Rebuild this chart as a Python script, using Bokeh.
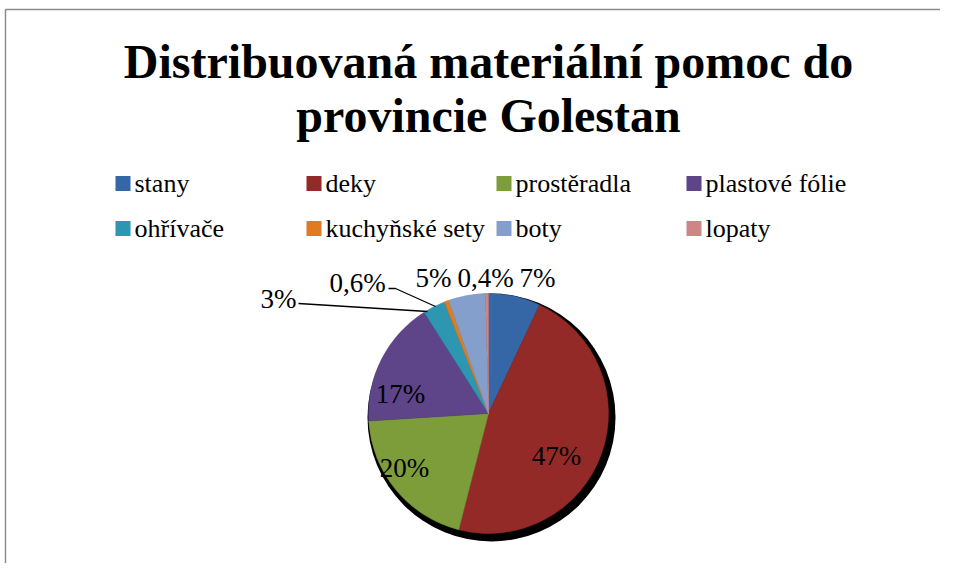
import math
from bokeh.plotting import figure
from bokeh.models import Range1d, ColumnDataSource
from bokeh.core.properties import value
from bokeh.embed import file_html
from bokeh.resources import INLINE

# ---- data ----
categories = ["stany", "deky", "prostěradla", "plastové fólie",
              "ohřívače", "kuchyňské sety", "boty", "lopaty"]
shares = [7.0, 47.0, 20.0, 17.0, 3.0, 0.6, 5.0, 0.4]
share_labels = ["7%", "47%", "20%", "17%", "3%", "0,6%", "5%", "0,4%"]
colors = ["#3566A6", "#942A28", "#7D9D3A", "#5E4488",
          "#2D96B1", "#E07B20", "#859FCC", "#CE8585"]
title_lines = ["Distribuovaná materiální pomoc do", "provincie Golestan"]

W, H = 940, 563
SERIF = value("Liberation Serif")


def X(px):
    return px


def Y(py):
    return H - py


p = figure(width=W, height=H, output_backend="svg", toolbar_location=None,
           x_range=Range1d(0, W), y_range=Range1d(0, H), min_border=0)
p.axis.visible = False
p.grid.visible = False
p.outline_line_color = None
p.background_fill_color = "white"
p.border_fill_color = "white"

# chart frame (top and left edges visible in window)
p.line(x=[X(5), X(5), X(956)], y=[Y(600), Y(9), Y(9)],
       line_color="#8c8c8c", line_width=1.5)

# title
p.text(x=[X(488), X(488)], y=[Y(61), Y(115)], text=title_lines,
       text_font=SERIF, text_font_size="48px", text_font_style="bold",
       text_align="center", text_baseline="alphabetic", text_color="black")

# legend
col_x = [115, 306, 496, 686]
row_y = [183, 228]
lx, ly = [], []
for i in range(len(categories)):
    lx.append(X(col_x[i % 4]))
    ly.append(Y(row_y[i // 4]))
p.scatter(x=[v + 7.5 for v in lx], y=ly, marker="square", size=15,
          fill_color=colors, line_color=None)
p.text(x=[v + 19 for v in lx], y=ly, text=categories, text_font=SERIF,
       text_font_size="26px", text_align="left", text_baseline="middle",
       text_color="black")

# pie
cx, cy, R = X(488), Y(413), 120
starts, ends = [], []
total = sum(shares)
acc = 0.0
for s in shares:
    a0 = math.pi / 2 - 2 * math.pi * acc / total
    acc += s
    a1 = math.pi / 2 - 2 * math.pi * acc / total
    starts.append(a0)
    ends.append(a1)

# shadow
p.circle(x=[cx + 3], y=[cy - 4], radius=R + 4, fill_color="black",
         line_color=None)

src = ColumnDataSource(dict(start=starts, end=ends, color=colors))
p.wedge(x=cx, y=cy, radius=R, start_angle="start", end_angle="end",
        direction="clock", fill_color="color", line_color="color",
        line_width=0.5, source=src)

# percentage label positions (layout)
label_pos = [(537, 277), (556, 455), (404, 467), (400, 393),
             (278, 298), (357, 282), (433, 277), (485, 277)]
p.text(x=[X(a) for a, b in label_pos], y=[Y(b) for a, b in label_pos],
       text=share_labels, text_font=SERIF, text_font_size="27px",
       text_align="center", text_baseline="middle", text_color="black")

# leader lines for the small slices
p.multi_line(xs=[[X(298), X(427)], [X(388), X(395), X(435)]],
             ys=[[Y(303), Y(311)], [Y(288), Y(288), Y(306)]],
             line_color="black", line_width=1.3)

open("out.html", "w").write(file_html(p, INLINE))
